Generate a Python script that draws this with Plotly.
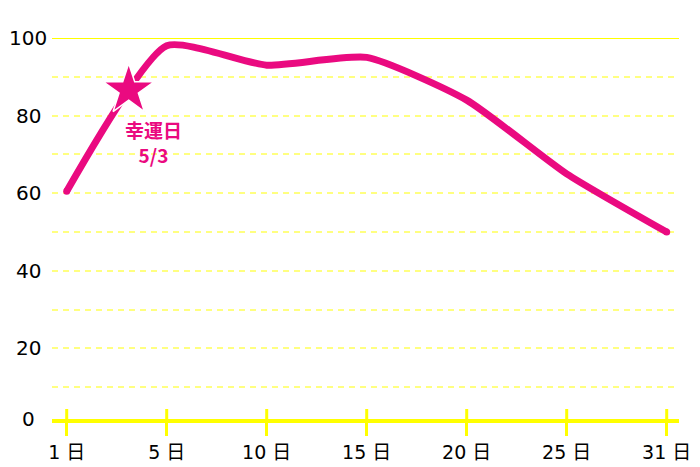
import plotly.graph_objects as go

# ---- data ----
day_labels = ["1 日", "5 日", "10 日", "15 日", "20 日", "25 日", "31 日"]
values = [60.5, 98, 93, 95, 84, 65, 50]
y_tick_vals = [0, 20, 40, 60, 80, 100]
y_grid_vals = [10, 20, 30, 40, 50, 60, 70, 80, 90]
lucky_label = "幸運日<br>5/3"
lucky_pos = 0.62      # position between 1日 and 5日
lucky_val = 86.6

# ---- style ----
PINK = "#EA0A80"
YELLOW = "#FFFF00"
GRID = "#FFFF80"
FONT = "DejaVu Sans, Noto Sans CJK JP, sans-serif"

# page has an 8px body margin, so the figure is sized/offset to compensate
OFF = 8
W, H = 700 - OFF, 467 - OFF
ML, MR, MT, MB = 52 - OFF, 21, 38 - OFF, 48
plot_h = H - MT - MB
y_bottom = 1.83
x_pos = list(range(len(day_labels)))

fig = go.Figure()

end_sizes = [7 if i in (0, len(values) - 1) else 0 for i in range(len(values))]
fig.add_trace(go.Scatter(
    x=x_pos, y=values, mode="lines+markers",
    line=dict(color=PINK, width=7, shape="spline", smoothing=0.55),
    marker=dict(color=PINK, size=end_sizes, opacity=1, line=dict(width=0)),
    hoverinfo="skip", cliponaxis=False,
))

fig.add_trace(go.Scatter(
    x=[lucky_pos], y=[lucky_val], mode="markers",
    marker=dict(symbol="star", size=38, color=PINK, line=dict(color="white", width=1.5)),
    hoverinfo="skip", cliponaxis=False,
))

fig.add_annotation(
    x=lucky_pos, y=lucky_val, xref="x", yref="y", text=lucky_label,
    showarrow=False, xanchor="center", yanchor="middle",
    xshift=25, yshift=-52,
    font=dict(family="Noto Sans CJK JP, sans-serif", size=19, color=PINK, weight=600),
)

shapes = []
shapes.append(dict(type="line", xref="paper", yref="y", x0=0, x1=1, y0=100, y1=100,
                   line=dict(color=YELLOW, width=2), layer="below"))
for xp in x_pos:
    shapes.append(dict(type="line", xref="x", yref="paper", x0=xp, x1=xp,
                       y0=0, y1=10 / plot_h, line=dict(color=YELLOW, width=3)))
fig.update_layout(shapes=shapes)

for v in y_tick_vals:
    fig.add_annotation(
        x=(28 - 52) / (W - ML - MR), xref="paper", y=max(v, y_bottom), yref="y",
        text=str(v), showarrow=False, xanchor="center", yanchor="middle",
        font=dict(family=FONT, size=20, color="black"),
    )

fig.update_layout(
    width=W, height=H,
    margin=dict(l=ML, r=MR, t=MT, b=MB, autoexpand=False),
    paper_bgcolor="white", plot_bgcolor="white",
    showlegend=False,
    xaxis=dict(
        range=[-0.147, 6.123], tickvals=x_pos, ticktext=day_labels,
        showgrid=False, zeroline=False, automargin=False,
        showline=True, linecolor=YELLOW, linewidth=4,
        ticks="outside", ticklen=13, tickwidth=3, tickcolor=YELLOW,
        tickfont=dict(family=FONT, size=19, color="black"),
        fixedrange=True,
    ),
    yaxis=dict(
        range=[y_bottom, 100], tickvals=y_grid_vals, showticklabels=False,
        showgrid=True, gridcolor=GRID, gridwidth=2, griddash="6px,5px",
        zeroline=False, showline=False, ticks="", fixedrange=True, automargin=False,
    ),
)

fig.write_html("out.html")
